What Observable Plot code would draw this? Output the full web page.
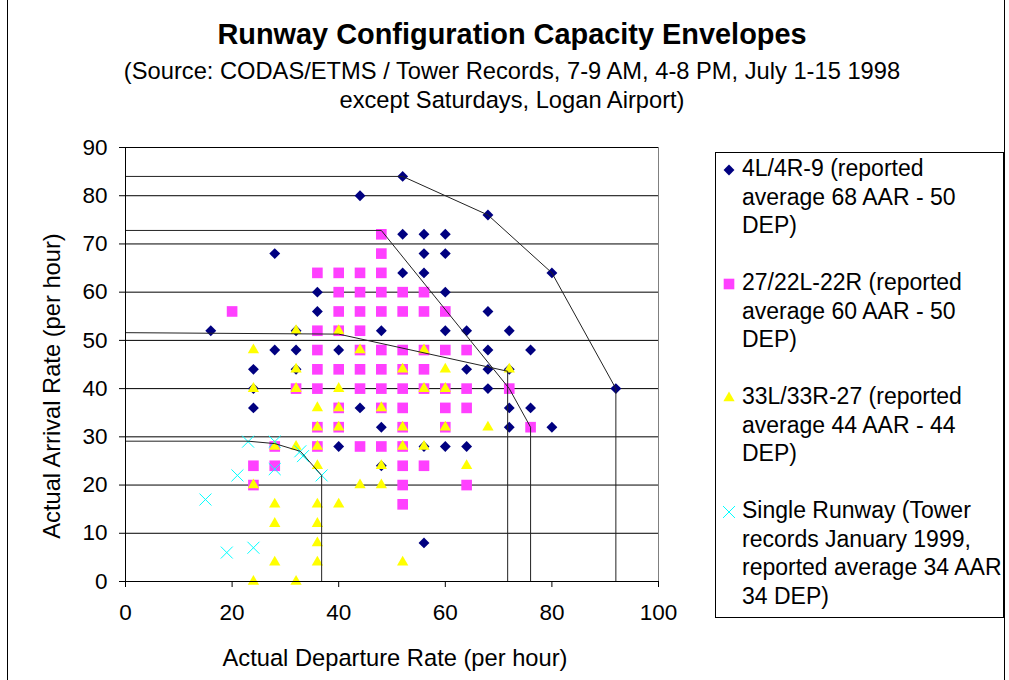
<!DOCTYPE html>
<html>
<head>
<meta charset="utf-8">
<script src="https://cdn.jsdelivr.net/npm/d3@7"></script>
<script src="https://cdn.jsdelivr.net/npm/@observablehq/plot@0.6"></script>
<style>
  body { margin: 0; background: #fff; font-family: "Liberation Sans", Arial, sans-serif; color: #000; }
  #wrap { position: relative; width: 1009px; height: 680px; overflow: hidden; background: #fff; }
  .border { position: absolute; top: 0; left: 7px; width: 998px; height: 680px; border-left: 1px solid #000; border-right: 1px solid #000; box-sizing: border-box; }
  .t { position: absolute; left: 0; width: 1024px; text-align: center; white-space: nowrap; }
  #title { top: 20px; font-size: 28.9px; line-height: 29px; font-weight: bold; }
  #sub { top: 57px; font-size: 23.7px; line-height: 29px; }
  #xtitle { position: absolute; top: 644px; left: 195px; width: 400px; text-align: center; font-size: 23.7px; line-height: 28px; white-space: nowrap; }
  #ytitle { position: absolute; left: 52px; top: 386px; width: 400px; margin-left: -200px; margin-top: -14px; text-align: center; font-size: 23.7px; line-height: 28px; white-space: nowrap; transform: rotate(-90deg); }
  #plot { position: absolute; left: 0; top: 130px; }
  #legend { position: absolute; left: 715px; top: 152px; width: 289px; height: 466px; border: 1px solid #000; box-sizing: border-box; overflow: hidden; background: #fff; }
  #legend .item { position: absolute; left: 26px; font-size: 23px; line-height: 28.5px; white-space: nowrap; }
  #lmarks { position: absolute; left: 0; top: 0; }
</style>
</head>
<body>
<div id="wrap">
  <div class="border"></div>
  <div id="title" class="t">Runway Configuration Capacity Envelopes</div>
  <div id="sub" class="t">(Source: CODAS/ETMS / Tower Records, 7-9 AM, 4-8 PM, July 1-15 1998<br>except Saturdays, Logan Airport)</div>
  <div id="plot"></div>
  <div id="ytitle">Actual Arrival Rate (per hour)</div>
  <div id="xtitle">Actual Departure Rate (per hour)</div>
  <div id="legend"></div>
  <svg id="lmarks" width="1009" height="680"></svg>
</div>
<script>
// ---- data ----
const xTicks = [0, 20, 40, 60, 80, 100];
const yTicks = [0, 10, 20, 30, 40, 50, 60, 70, 80, 90];

const seriesNames = [
  "4L/4R-9 (reported|average 68 AAR - 50|DEP)",
  "27/22L-22R (reported|average 60 AAR - 50|DEP)",
  "33L/33R-27 (reported|average 44 AAR - 44|DEP)",
  "Single Runway (Tower|records January 1999,|reported average 34 AAR|34 DEP)"
];

// 4L/4R-9
const rw4 = [
  [52,84],[44,80],[68,76],
  [52,72],[56,72],[60,72],
  [28,68],[56,68],[60,68],
  [52,64],[56,64],[80,64],
  [36,60],[60,60],
  [36,56],[68,56],
  [16,52],[32,52],[48,52],[60,52],[64,52],[72,52],
  [28,48],[32,48],[40,48],[68,48],[76,48],
  [24,44],[32,44],[64,44],[68,44],[72,44],
  [24,40],[68,40],[92,40],
  [24,36],[44,36],[72,36],[76,36],
  [48,32],[72,32],[80,32],
  [40,28],[56,28],[60,28],[64,28],
  [48,24],
  [56,8]
];
// 27/22L-22R
const rw27 = [
  [48,72],[48,68],
  [36,64],[40,64],[44,64],[48,64],
  [40,60],[44,60],[48,60],[52,60],[56,60],
  [20,56],[40,56],[44,56],[48,56],[52,56],[56,56],[60,56],
  [36,52],[40,52],[44,52],
  [36,48],[44,48],[48,48],[52,48],[56,48],[60,48],[64,48],
  [36,44],[40,44],[44,44],[48,44],[52,44],[56,44],
  [32,40],[36,40],[44,40],[48,40],[52,40],[56,40],[60,40],[64,40],[72,40],
  [40,36],[48,36],[52,36],[60,36],[64,36],
  [36,32],[40,32],[52,32],[60,32],[76,32],
  [28,28],[36,28],[44,28],[48,28],[52,28],
  [24,24],[28,24],[52,24],[56,24],
  [24,20],[52,20],[64,20],
  [52,16]
];
// 33L/33R-27
const rw33 = [
  [32,52],[40,52],
  [24,48],[44,48],[56,48],
  [32,44],[52,44],[60,44],[72,44],
  [24,40],[32,40],[40,40],[56,40],[60,40],
  [36,36],[40,36],[48,36],
  [36,32],[40,32],[52,32],[60,32],[68,32],
  [28,28],[32,28],[36,28],[52,28],[56,28],
  [36,24],[48,24],[64,24],
  [24,20],[44,20],[48,20],
  [28,16],[36,16],[40,16],
  [28,12],[36,12],
  [36,8],
  [28,4],[36,4],[52,4],
  [24,0],[32,0]
];
// Single runway
const single = [
  [23,29],[28,29],[32.8,27],[33.3,26],[28,23.3],[21,22],[36.8,22],[15,17],[24,7],[19,6]
];

// capacity envelopes
const env4 = [[0,84],[52,84],[68,76],[80,64],[92,40],[92,0]];
const env27 = [[0,72.8],[48,72.8],[72,40],[76,32],[76,0]];
const env33 = [[0,51.6],[40,51.3],[71.7,43.6],[71.7,0]];
const envSingle = [[0,29.1],[23,29.1],[28,28.6],[32.8,27],[36.8,22],[36.8,0]];

// ---- styles ----
const colors = ["#000080", "#ff40ff", "#ffff00", "#00ffff"];
const rows = pts => pts.map(([x, y]) => ({x, y}));

const plot = Plot.plot({
  width: 700,
  height: 550,
  marginLeft: 125,
  marginRight: 42,
  marginTop: 17,
  marginBottom: 99,
  style: {fontSize: "22.5px", fontFamily: '"Liberation Sans", Arial, sans-serif', color: "#000", background: "transparent", overflow: "visible"},
  x: {domain: [0, 100], ticks: xTicks, tickSize: 6, tickPadding: 17, label: null},
  y: {domain: [0, 90], ticks: yTicks, tickSize: 6, tickPadding: 12, label: null},
  marks: [
    Plot.ruleY(yTicks.filter(d => d > 0), {stroke: "#000", strokeWidth: 1}),
    Plot.ruleX([100], {stroke: "#808080", strokeWidth: 1}),
    Plot.dot(rows(rw4), {x: "x", y: "y", symbol: "diamond2", r: 4.9, fill: colors[0], stroke: "none"}),
    Plot.dot(rows(rw27), {x: "x", y: "y", symbol: "square", r: 6, fill: colors[1], stroke: "none"}),
    Plot.dot(rows(rw33), {x: "x", y: "y", symbol: "triangle", r: 4.2, fill: colors[2], stroke: "none"}),
    Plot.dot(rows(single), {x: "x", y: "y", symbol: "times", r: 5.5, fill: "none", stroke: colors[3], strokeWidth: 1}),
    Plot.line(rows(env4), {x: "x", y: "y", stroke: "#222", strokeWidth: 1}),
    Plot.line(rows(env27), {x: "x", y: "y", stroke: "#222", strokeWidth: 1}),
    Plot.line(rows(env33), {x: "x", y: "y", stroke: "#222", strokeWidth: 1}),
    Plot.line(rows(envSingle), {x: "x", y: "y", stroke: "#222", strokeWidth: 1}),
    Plot.ruleX([0], {stroke: "#000", strokeWidth: 1}),
    Plot.ruleY([0], {stroke: "#000", strokeWidth: 1})
  ]
});
document.getElementById("plot").appendChild(plot);

// ---- legend ----
const legend = d3.select("#legend");
const symbols = [d3.symbolDiamond2, d3.symbolSquare, d3.symbolTriangle, d3.symbolTimes];
const radii = [4.9, 6, 4.2, 5.5];
seriesNames.forEach((name, i) => {
  legend.append("div").attr("class", "item")
    .style("top", (1 + i * 114) + "px")
    .html(name.split("|").join("<br>"));
  const cy = 153 + 1 + i * 114 + 14 + 2;
  d3.select("#lmarks").append("path")
    .attr("transform", `translate(729,${cy})`)
    .attr("d", d3.symbol(symbols[i], Math.PI * radii[i] * radii[i])())
    .attr("fill", i === 3 ? "none" : colors[i])
    .attr("stroke", i === 3 ? colors[3] : "none")
    .attr("stroke-width", 1);
});
</script>
</body>
</html>
